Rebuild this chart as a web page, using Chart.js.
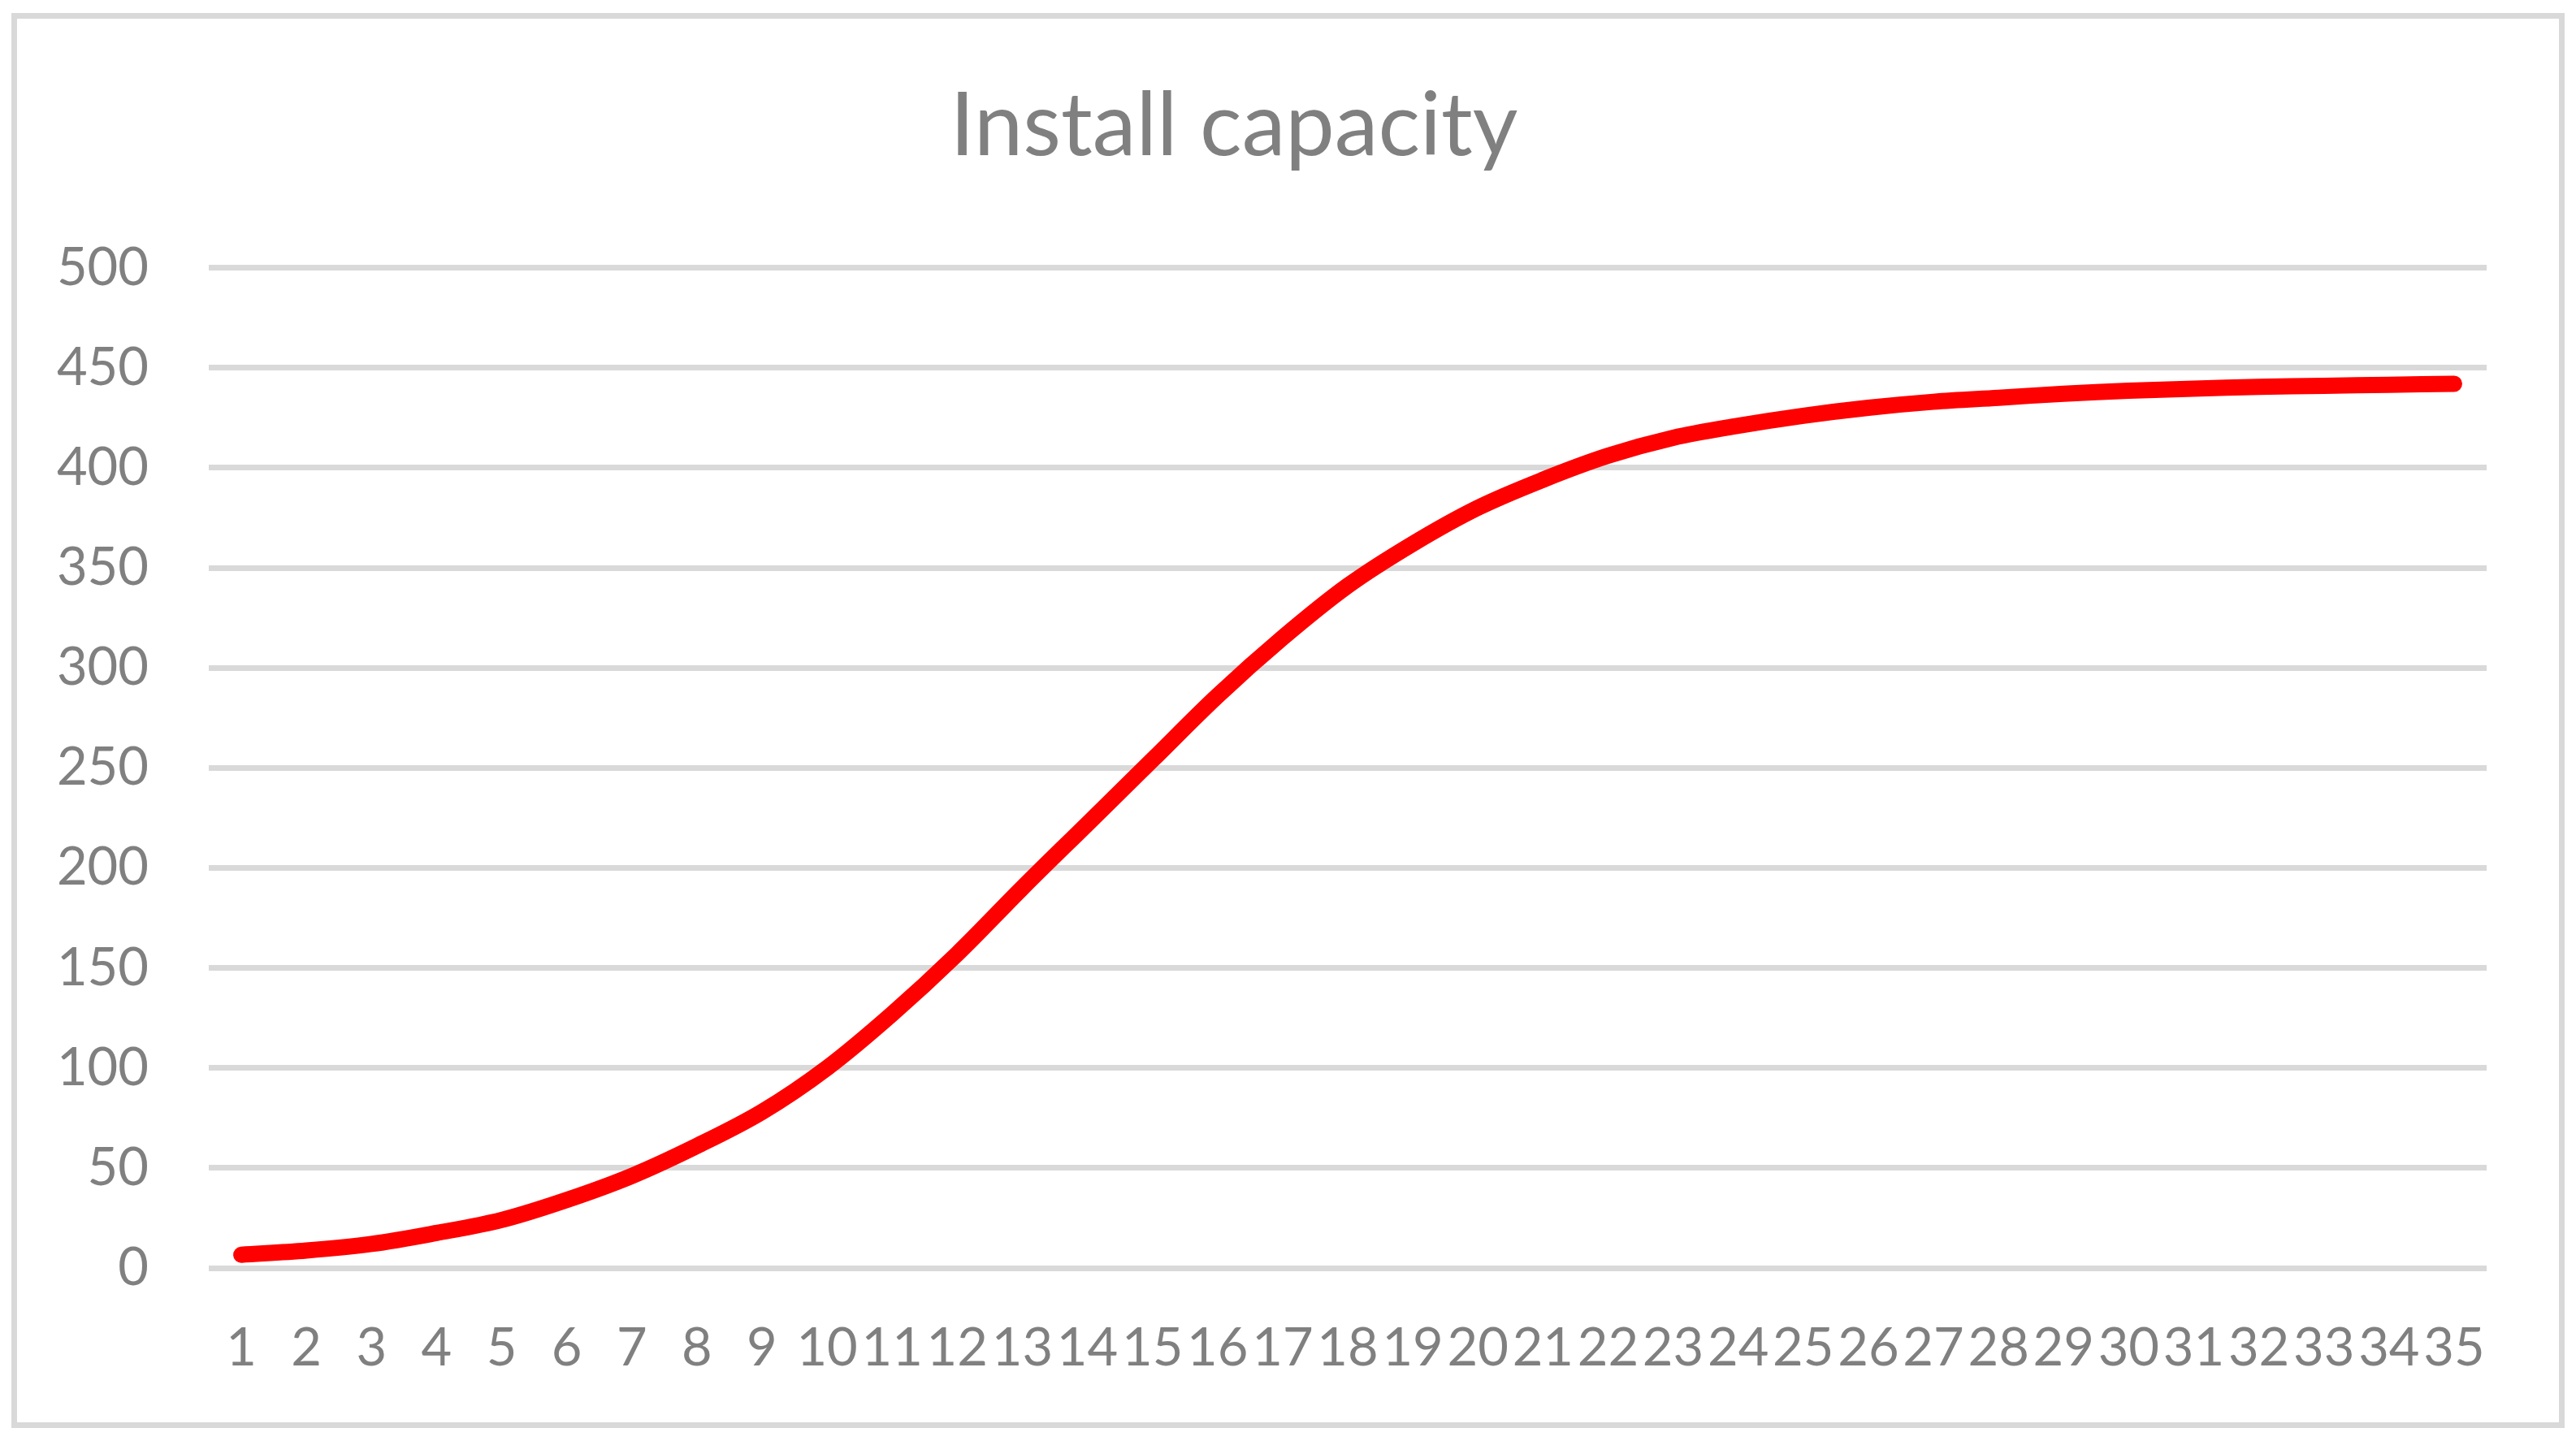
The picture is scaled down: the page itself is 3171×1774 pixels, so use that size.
<!DOCTYPE html>
<html>
<head>
<meta charset="utf-8">
<title>Install capacity</title>
<script src="https://cdn.jsdelivr.net/npm/chart.js@4.4.1/dist/chart.umd.min.js"></script>
<style>
  html, body { margin: 0; padding: 0; background: #fff; }
  .frame {
    position: absolute; left: 14px; top: 16px;
    width: 3143px; height: 1742px;
    box-sizing: border-box; border: 7px solid #d9d9d9;
  }
  .frame canvas { display: block; }
</style>
</head>
<body>
<div class="frame"><canvas id="chart" width="3129" height="1728"></canvas></div>
<script>
// categories on the x axis (years 1..35)
const categories = ['1', '2', '3', '4', '5', '6', '7', '8', '9', '10',
  '11', '12', '13', '14', '15', '16', '17', '18', '19', '20',
  '21', '22', '23', '24', '25', '26', '27', '28', '29', '30',
  '31', '32', '33', '34', '35'];

// installed capacity
const capacity = [6.6, 8.7, 12, 17.5, 24, 34, 46, 61, 78, 100,
  127, 157, 190, 222, 254, 286, 315, 341, 362, 380,
  394, 406, 415, 421, 426, 430, 433, 435, 437, 438.5,
  439.5, 440.5, 441, 441.5, 442];

const yMin = 0;
const yMax = 500;
const yStep = 50;

const gray = '#808080';
const fontFamily = 'Lato, "Open Sans", sans-serif';

// the title sits a little left of the canvas centre in the original
const titleShift = {
  id: 'titleShift',
  afterLayout(chart) {
    if (chart.titleBlock) chart.titleBlock.left -= 44;
  },
};

const chart = new Chart(document.getElementById('chart'), {
  type: 'line',
  data: {
    labels: categories,
    datasets: [{
      label: 'Install capacity',
      data: capacity,
      borderColor: '#ff0000',
      backgroundColor: '#ff0000',
      borderWidth: 20,
      borderCapStyle: 'round',
      borderJoinStyle: 'round',
      pointRadius: 0,
      pointHoverRadius: 0,
      tension: 0.35,
      fill: false,
    }],
  },
  plugins: [titleShift],
  options: {
    responsive: false,
    animation: false,
    devicePixelRatio: 1,
    layout: {
      padding: { left: 0, right: 89, top: 0, bottom: 0 },
    },
    plugins: {
      legend: { display: false },
      tooltip: { enabled: false },
      title: {
        display: true,
        text: 'Install capacity',
        color: gray,
        font: { family: fontFamily, size: 108, weight: 'normal' },
        padding: { top: 68, bottom: 109 },
      },
    },
    scales: {
      x: {
        offset: true,
        grid: { display: false, drawTicks: false },
        border: { display: false },
        ticks: {
          autoSkip: false,
          maxRotation: 0,
          minRotation: 0,
          padding: 60,
          color: gray,
          font: { family: fontFamily, size: 65 },
        },
        afterFit: (scale) => { scale.height = 190; },
      },
      y: {
        min: yMin,
        max: yMax,
        grid: { color: '#d9d9d9', lineWidth: 7, drawTicks: false },
        border: { display: false },
        ticks: {
          stepSize: yStep,
          padding: 74,
          color: gray,
          font: { family: fontFamily, size: 65 },
        },
        afterFit: (scale) => { scale.width = 236; },
      },
    },
  },
});
</script>
</body>
</html>
